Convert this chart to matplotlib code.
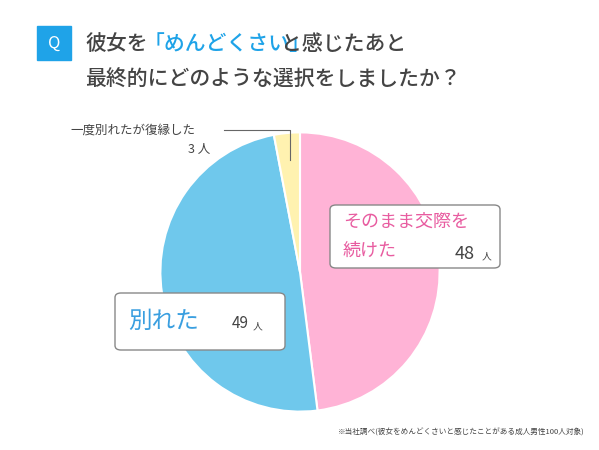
import matplotlib.pyplot as plt
from matplotlib.patches import FancyBboxPatch, Rectangle

plt.rcParams['font.family'] = ['Noto Sans CJK JP', 'DejaVu Sans']

labels = ['続けた', '別れた', '復縁']
counts = [48, 49, 3]
colors = ['#ffb3d6', '#6fc8ec', '#fff2b0']

W, H = 599, 450
fig = plt.figure(figsize=(W / 100, H / 100), dpi=100)

def fx(x):
    return x / W

def fy(y):
    return 1 - y / H

# pie
ax = fig.add_axes([fx(159), fy(413), fx(282), 282 / H])
ax.pie(counts, colors=colors, startangle=90, counterclock=False,
       wedgeprops=dict(edgecolor='white', linewidth=1.5))
ax.set_xlim(-1.01, 1.01)
ax.set_ylim(-1.01, 1.01)
ax.set_aspect('equal')

# title
fig.patches.append(Rectangle((fx(37), fy(60)), fx(34), 34 / H, color='#1fa3e8',
                             transform=fig.transFigure, figure=fig))
fig.text(fx(54), fy(43), 'Q', color='white', fontsize=12, ha='center', va='center')
title_color = '#444444'
cw = 21.0
fs = 15
fig.text(fx(85), fy(44), '彼女を', color=title_color, fontsize=fs, va='center', weight='medium')
fig.text(fx(85 + 3 * cw - 4), fy(44), '「めんどくさい」', color='#1fa3e8', fontsize=fs,
         va='center', weight='medium')
fig.text(fx(85 + 10 * cw - 14), fy(44), 'と感じたあと', color=title_color, fontsize=fs,
         va='center', weight='medium')
fig.text(fx(85), fy(80), '最終的にどのような選択をしましたか？', color=title_color,
         fontsize=fs, va='center', weight='medium')

# boxes
def box(x0, y0, x1, y1):
    p = FancyBboxPatch((fx(x0), fy(y1)), fx(x1 - x0), (y1 - y0) / H,
                       boxstyle='round,pad=0,rounding_size=0.01',
                       facecolor='white', edgecolor='#888888', linewidth=1,
                       transform=fig.transFigure, figure=fig)
    fig.patches.append(p)

box(330, 205, 500, 268)
fig.text(fx(343), fy(222), 'そのまま交際を', color='#e85ca0', fontsize=13, va='center')
fig.text(fx(343), fy(251), '続けた', color='#e85ca0', fontsize=13, va='center')
fig.text(fx(455), fy(254), '48', color='#444444', fontsize=13, va='center')
fig.text(fx(482), fy(256), '人', color='#444444', fontsize=7, va='center')

box(115, 293, 285, 350)
fig.text(fx(128), fy(321), '別れた', color='#3a9fe0', fontsize=17, va='center')
fig.text(fx(232), fy(324), '49', color='#444444', fontsize=11, va='center')
fig.text(fx(253), fy(326), '人', color='#444444', fontsize=7, va='center')

# yellow label
fig.text(fx(70), fy(130), '一度別れたが復縁した', color='#444444', fontsize=9, va='center')
fig.text(fx(188), fy(150), '3 人', color='#444444', fontsize=9, va='center')
fig.add_artist(plt.Line2D([fx(224), fx(290), fx(290)], [fy(130), fy(130), fy(160)],
                          color='#666666', linewidth=0.8, transform=fig.transFigure))

fig.text(fx(585), fy(433), '※当社調べ(彼女をめんどくさいと感じたことがある成人男性100人対象)',
         color='#444444', fontsize=5.5, ha='right', va='center')

fig.savefig('out.png', dpi=100)
